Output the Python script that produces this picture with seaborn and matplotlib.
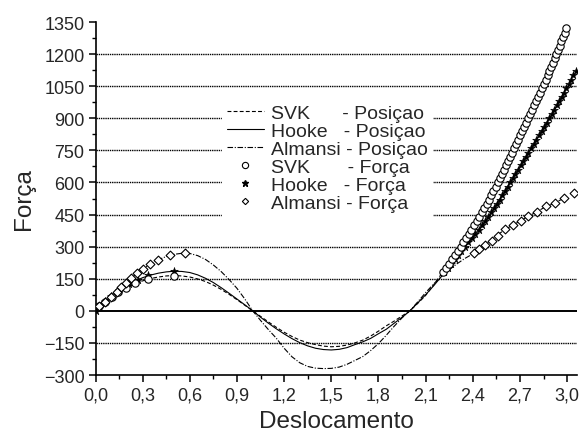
import matplotlib
matplotlib.use('Agg')
import matplotlib.pyplot as plt
from matplotlib.lines import Line2D
from matplotlib.ticker import MultipleLocator, FixedLocator, FixedFormatter
import seaborn as sns
import numpy as np

# --- DATA ---
desl = [0.00, 0.05, 0.10, 0.15, 0.20, 0.25, 0.30, 0.35, 0.40, 0.45,
        0.50, 0.55, 0.60, 0.65, 0.70, 0.75, 0.80, 0.85, 0.90, 0.95,
        1.00, 1.05, 1.10, 1.15, 1.20, 1.25, 1.30, 1.35, 1.40, 1.45,
        1.50, 1.55, 1.60, 1.65, 1.70, 1.75, 1.80, 1.85, 1.90, 1.95,
        2.00, 2.05, 2.10, 2.15, 2.20, 2.25, 2.30, 2.35, 2.40, 2.45,
        2.50, 2.55, 2.60, 2.65, 2.70, 2.75, 2.80, 2.85, 2.90, 2.95,
        3.00]

svk_pos = [0, 34, 63, 88, 108, 126, 140, 151, 158, 163,
           165, 163, 158, 149, 137, 120, 100, 77, 52, 26,
           0, -26, -52, -77, -100, -120, -137, -149, -158, -165,
           -168, -166, -160, -150, -137, -118, -95, -70, -48, -24,
           0, 35, 72, 120, 172, 222, 275, 332, 390, 452,
           515, 587, 660, 737, 815, 895, 975, 1057, 1140, 1235,
           1330]

hooke_pos = [0, 36, 68, 95, 118, 138, 155, 167, 176, 182,
             185, 184, 179, 168, 152, 132, 108, 82, 55, 28,
             0, -30, -58, -84, -108, -130, -149, -164, -175, -181,
             -183, -180, -172, -158, -145, -129, -107, -86, -58, -30,
             0, 37, 75, 116, 160, 207, 255, 300, 345, 392,
             440, 497, 555, 615, 675, 735, 795, 855, 915, 980,
             1045]

almansi_pos = [0, 33, 63, 100, 133, 167, 195, 219, 239, 254,
               264, 269, 268, 258, 240, 214, 183, 146, 105, 55,
               0, -45, -88, -128, -175, -215, -243, -260, -268, -270,
               -269, -263, -250, -232, -214, -186, -153, -114, -72, -33,
               0, 42, 85, 125, 160, 192, 220, 245, 266, 293,
               320, 350, 378, 399, 419, 441, 460, 481, 497, 515,
               534]

# force-controlled results (markers)
svk_f_x = [0.024, 0.060, 0.103, 0.145, 0.194, 0.252, 0.332, 0.499,
           2.208, 2.227, 2.247, 2.266, 2.285, 2.304, 2.322, 2.339, 2.357, 2.374,
           2.391, 2.408, 2.424, 2.440, 2.456, 2.472, 2.488, 2.503, 2.517, 2.531,
           2.545, 2.559, 2.572, 2.586, 2.600, 2.613, 2.626, 2.639, 2.652, 2.665,
           2.677, 2.690, 2.703, 2.716, 2.728, 2.741, 2.753, 2.766, 2.778, 2.791,
           2.803, 2.815, 2.827, 2.839, 2.852, 2.864, 2.876, 2.888, 2.900, 2.911,
           2.921, 2.932, 2.942, 2.953, 2.963, 2.974, 2.984, 2.995]
svk_f_y = [21, 42, 63, 86, 106, 130, 149, 164,
           180, 200, 220, 240, 260, 280, 300, 320, 340, 360,
           380, 400, 420, 440, 460, 480, 500, 520, 540, 560,
           580, 600, 620, 640, 660, 680, 700, 720, 740, 760,
           780, 800, 820, 840, 860, 880, 900, 920, 940, 960,
           980, 1000, 1020, 1040, 1060, 1080, 1100, 1120, 1140, 1160,
           1180, 1200, 1220, 1240, 1260, 1280, 1300, 1320]

hooke_f_x = [0.000, 0.024, 0.060, 0.100, 0.150, 0.215, 0.268, 0.336, 0.500,
             2.220, 2.241, 2.263, 2.284, 2.306, 2.328, 2.350, 2.372, 2.394,
             2.416, 2.437, 2.458, 2.479, 2.500, 2.517, 2.535, 2.552, 2.570,
             2.587, 2.604, 2.621, 2.638, 2.654, 2.671, 2.688, 2.704, 2.721,
             2.738, 2.754, 2.771, 2.788, 2.804, 2.821, 2.838, 2.854, 2.871,
             2.888, 2.904, 2.919, 2.935, 2.950, 2.965, 2.981, 2.996, 3.011,
             3.025, 3.039, 3.054]
hooke_f_y = [0, 22, 45, 68, 92, 125, 144, 167, 185,
             180, 200, 220, 240, 260, 280, 300, 320, 340,
             360, 380, 400, 420, 440, 460, 480, 500, 520,
             540, 560, 580, 600, 620, 640, 660, 680, 700,
             720, 740, 760, 780, 800, 820, 840, 860, 880,
             900, 920, 940, 960, 980, 1000, 1020, 1040, 1060,
             1080, 1100, 1120]

almansi_f_x = [0.024, 0.060, 0.099, 0.135, 0.160, 0.194, 0.226, 0.262, 0.300,
               0.347, 0.400, 0.474, 0.569,
               2.408, 2.441, 2.478, 2.520, 2.558, 2.605, 2.654, 2.705, 2.753,
               2.807, 2.866, 2.923, 2.980, 3.046]
almansi_f_y = [21, 42, 63, 86, 110, 130, 152, 175, 195,
               219, 239, 262, 269,
               269, 289, 308, 328, 352, 382, 401, 421, 442,
               463, 488, 504, 527, 551]

xticks = [0.0, 0.3, 0.6, 0.9, 1.2, 1.5, 1.8, 2.1, 2.4, 2.7, 3.0]
xtick_labels = ['0,0', '0,3', '0,6', '0,9', '1,2', '1,5', '1,8', '2,1', '2,4', '2,7', '3,0']
yticks = [-300, -150, 0, 150, 300, 450, 600, 750, 900, 1050, 1200, 1350]

labels = ['SVK      - Posiçao', 'Hooke   - Posiçao', 'Almansi - Posiçao',
          'SVK       - Força', 'Hooke   - Força', 'Almansi - Força']

# --- STYLE ---
sns.set_style('ticks')
plt.rcParams['font.family'] = ['Liberation Sans', 'DejaVu Sans']

fig = plt.figure(figsize=(5.81, 4.39), dpi=100)
ax = fig.add_axes([0.1644, 0.1435, 0.8279, 0.8041])

# gridlines (dotted), zero line solid
for yv in yticks[1:-1]:
    if yv == 0:
        ax.axhline(yv, color='black', lw=1.4, zorder=1)
    else:
        ax.axhline(yv, color='black', lw=1.0, ls=(0, (1, 0.6)), zorder=1)

dash_svk = (0, (3.5, 2))
dash_alm = (0, (5, 1.5, 1, 1.5))
LW = 0.8

sns.lineplot(x=desl, y=svk_pos, ax=ax, color='black', lw=LW, linestyle=dash_svk, zorder=3)
sns.lineplot(x=desl, y=hooke_pos, ax=ax, color='black', lw=LW, linestyle='-', zorder=3)
sns.lineplot(x=desl, y=almansi_pos, ax=ax, color='black', lw=LW, linestyle=dash_alm, zorder=3)

sns.scatterplot(x=hooke_f_x, y=hooke_f_y, ax=ax, marker='*', s=34, color='black',
                edgecolor='black', linewidth=0.4, zorder=4)
sns.scatterplot(x=svk_f_x, y=svk_f_y, ax=ax, marker='o', s=28, facecolor='white',
                edgecolor='black', linewidth=0.8, zorder=5)
sns.scatterplot(x=almansi_f_x, y=almansi_f_y, ax=ax, marker='D', s=20, facecolor='white',
                edgecolor='black', linewidth=0.8, zorder=6)

ax.set_xlim(0, 3.06)
ax.set_ylim(-300, 1350)

ax.xaxis.set_major_locator(FixedLocator(xticks))
ax.xaxis.set_major_formatter(FixedFormatter(xtick_labels))
ax.xaxis.set_minor_locator(MultipleLocator(0.15))
ax.set_yticks(yticks)
ax.yaxis.set_minor_locator(MultipleLocator(75))

ax.tick_params(which='major', direction='out', length=5, width=1.1, labelsize=13, pad=3, color='black')
ax.tick_params(which='minor', direction='out', length=3, width=1.0, color='black')
sns.despine(ax=ax)
for sp in ['left', 'bottom']:
    ax.spines[sp].set_linewidth(1.2)
    ax.spines[sp].set_color('black')

ax.set_xlabel('Deslocamento', fontsize=17.5, labelpad=5)
ax.set_ylabel('Força', fontsize=17.5, labelpad=6)

handles = [
    Line2D([], [], color='black', lw=LW, ls=dash_svk),
    Line2D([], [], color='black', lw=LW, ls='-'),
    Line2D([], [], color='black', lw=LW, ls=dash_alm),
    Line2D([], [], ls='none', marker='o', ms=4.5, mfc='white', mec='black', mew=0.8),
    Line2D([], [], ls='none', marker='*', ms=5, color='black'),
    Line2D([], [], ls='none', marker='D', ms=3.2, mfc='white', mec='black', mew=0.8),
]
leg = ax.legend(handles, labels, loc='upper left', bbox_to_anchor=(0.263, 0.78),
                borderaxespad=0, frameon=True, fancybox=False, framealpha=1,
                facecolor='white', edgecolor='white', fontsize=14,
                handlelength=1.9, handletextpad=0.35, labelspacing=0.02, borderpad=0.25)
leg.set_zorder(7)

fig.savefig('out.png', dpi=100)
